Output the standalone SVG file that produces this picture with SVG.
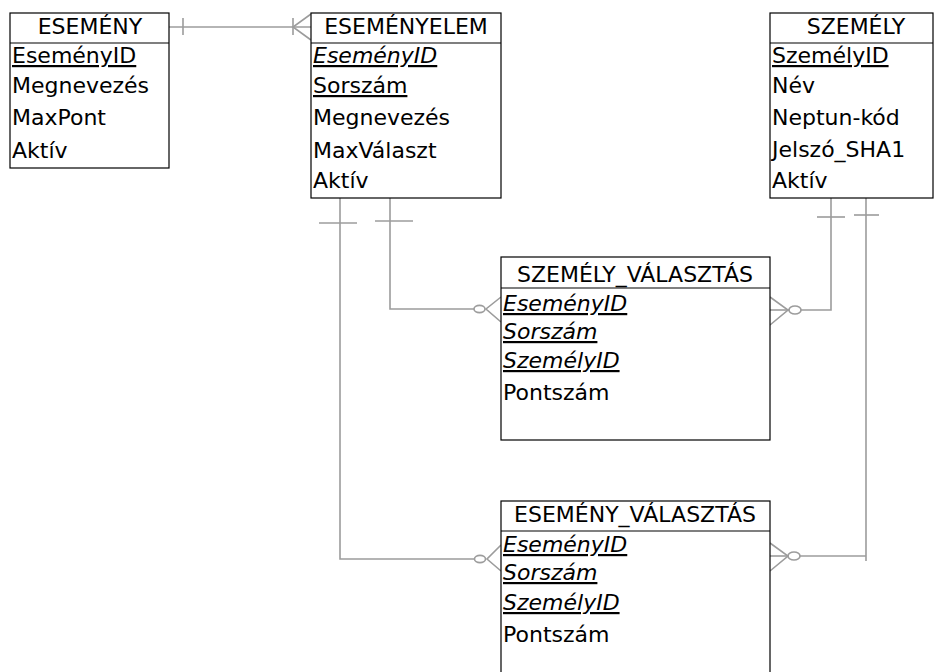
<svg xmlns="http://www.w3.org/2000/svg" width="935" height="672" viewBox="0 0 935 672">
  <style>
    .box { fill: #ffffff; stroke: #000000; stroke-width: 1.2; }
    .sep { stroke: #000000; stroke-width: 1.2; }
    text { font-family: "DejaVu Sans", "Liberation Sans", sans-serif; font-size: 22px; fill: #000000; }
    .head { text-anchor: middle; }
    .pk { text-decoration: underline; }
    .fk { font-style: italic; text-decoration: underline; }
    .rel { fill: none; stroke: #9c9c9c; stroke-width: 1.6; }
  </style>
  <rect width="935" height="672" fill="#ffffff"/>

  <!-- relationships -->
  <g id="connectors" class="rel">
    <!-- ESEMÉNY 1 : N ESEMÉNYELEM -->
    <line x1="169" y1="27" x2="311" y2="27"/>
    <line x1="183" y1="18" x2="183" y2="35"/>
    <line x1="293" y1="18" x2="293" y2="35"/>
    <polyline points="311,14 293,27 311,40"/>

    <!-- ESEMÉNYELEM 1 : N SZEMÉLY_VÁLASZTÁS -->
    <polyline points="390,198 390,309 474,309"/>
    <line x1="375" y1="221" x2="413" y2="221"/>
    <ellipse cx="479.5" cy="309" rx="5.5" ry="3.6"/>
    <polyline points="501,297 486,309 501,322"/>

    <!-- ESEMÉNYELEM 1 : N ESEMÉNY_VÁLASZTÁS -->
    <polyline points="340,198 340,559 474,559"/>
    <line x1="319" y1="223" x2="357" y2="223"/>
    <ellipse cx="480" cy="559" rx="5.5" ry="3.6"/>
    <polyline points="501,545 487,559 501,571"/>

    <!-- SZEMÉLY 1 : N SZEMÉLY_VÁLASZTÁS -->
    <polyline points="831,198 831,310 801,310"/>
    <line x1="817" y1="217" x2="845" y2="217"/>
    <ellipse cx="795" cy="310" rx="6" ry="4"/>
    <polyline points="770,297 788,310 770,325"/>
    <line x1="770" y1="310" x2="789" y2="310"/>

    <!-- SZEMÉLY 1 : N ESEMÉNY_VÁLASZTÁS -->
    <line x1="866" y1="198" x2="866" y2="561"/>
    <line x1="866" y1="556" x2="800" y2="556"/>
    <line x1="854" y1="215" x2="879" y2="215"/>
    <ellipse cx="794" cy="556" rx="6" ry="4"/>
    <polyline points="770,543 788,556 770,571"/>
    <line x1="770" y1="556" x2="788" y2="556"/>
  </g>

  <!-- tables -->
  <g id="esemeny">
    <rect class="box" x="10" y="13" width="159" height="155"/>
    <line class="sep" x1="10" y1="43" x2="169" y2="43"/>
    <text class="head" x="90" y="34">ESEMÉNY</text>
    <text class="pk" x="12" y="63">EseményID</text>
    <text x="12" y="93">Megnevezés</text>
    <text x="12" y="125">MaxPont</text>
    <text x="12" y="158">Aktív</text>
  </g>

  <g id="esemenyelem">
    <rect class="box" x="311" y="13" width="190" height="185"/>
    <line class="sep" x1="311" y1="43" x2="501" y2="43"/>
    <text class="head" x="406" y="34">ESEMÉNYELEM</text>
    <text class="fk" x="313" y="63">EseményID</text>
    <text class="pk" x="313" y="93">Sorszám</text>
    <text x="313" y="125">Megnevezés</text>
    <text x="313" y="158">MaxVálaszt</text>
    <text x="313" y="188">Aktív</text>
  </g>

  <g id="szemely">
    <rect class="box" x="770" y="13" width="163" height="185"/>
    <line class="sep" x1="770" y1="43" x2="933" y2="43"/>
    <text class="head" x="856" y="34">SZEMÉLY</text>
    <text class="pk" x="772" y="63">SzemélyID</text>
    <text x="772" y="93">Név</text>
    <text x="772" y="125">Neptun-kód</text>
    <text x="772" y="157">Jelszó_SHA1</text>
    <text x="772" y="188">Aktív</text>
  </g>

  <g id="szemely_valasztas">
    <rect class="box" x="501" y="257" width="269" height="183"/>
    <line class="sep" x1="501" y1="288" x2="770" y2="288"/>
    <text class="head" x="635" y="282">SZEMÉLY_VÁLASZTÁS</text>
    <text class="fk" x="503" y="311">EseményID</text>
    <text class="fk" x="503" y="339">Sorszám</text>
    <text class="fk" x="503" y="368">SzemélyID</text>
    <text x="503" y="400">Pontszám</text>
  </g>

  <g id="esemeny_valasztas">
    <rect class="box" x="501" y="501" width="269" height="200"/>
    <line class="sep" x1="501" y1="531" x2="770" y2="531"/>
    <text class="head" x="635" y="522">ESEMÉNY_VÁLASZTÁS</text>
    <text class="fk" x="503" y="552">EseményID</text>
    <text class="fk" x="503" y="580">Sorszám</text>
    <text class="fk" x="503" y="610">SzemélyID</text>
    <text x="503" y="642">Pontszám</text>
  </g>
</svg>
